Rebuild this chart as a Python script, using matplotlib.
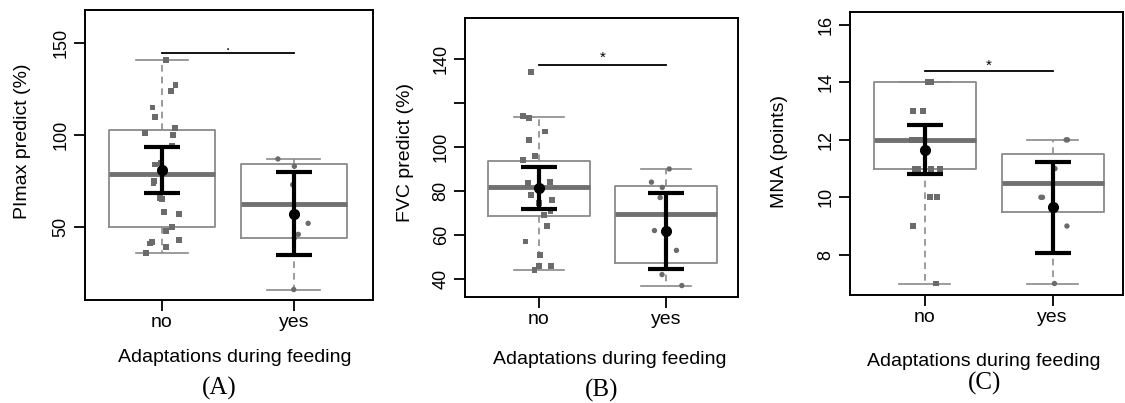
import numpy as np
import matplotlib
matplotlib.use("Agg")
import matplotlib.pyplot as plt

plt.rcParams["font.family"] = ["Liberation Sans", "DejaVu Sans"]

groups = ["no", "yes"]

# (A) PImax predict (%)
a_no_pts = [141, 127, 124, 115, 110, 104, 101, 100, 94, 85, 84, 75, 74, 66,
            65, 58, 57, 50, 48, 43, 42, 41, 39, 36]
a_yes_pts = [87, 83, 73, 52, 46, 44, 16]
a_box = [(36, 50, 79, 103, 141), (16, 44, 62.5, 84, 87)]   # whislo, q1, med, q3, whishi
a_mean = [81, 57]
a_ci = [(68.5, 93.5), (34.8, 80)]

# (B) FVC predict (%)
b_no_pts = [134, 114, 113, 107, 103, 96, 94, 84, 83.5, 78, 76, 74.5, 71, 69,
            64, 57, 51, 46, 46, 44]
b_yes_pts = [90, 84, 81.6, 77, 62, 53, 42, 37]
b_box = [(44, 68.6, 82, 93.6, 113.8), (37, 47.4, 69.5, 82.3, 90)]
b_mean = [81.5, 62]
b_ci = [(71.8, 91), (44.5, 79.2)]

# (C) MNA (points)
c_no_pts = [14, 14, 14, 14, 13, 13, 12, 12, 12, 11, 11, 11, 11, 10, 10, 9, 7]
c_yes_pts = [12, 12, 11, 10, 10, 9, 7]
c_box = [(7, 11, 12, 14, 14), (7, 9.5, 10.5, 11.5, 12)]
c_mean = [11.65, 9.65]
c_ci = [(10.8, 12.5), (8.07, 11.23)]

rng = np.random.default_rng(7)


def draw_panel(ax, pts, box, mean, ci, ylim, xlim, yticks, yticklabels,
               sig_y, sig_txt, sig_txt_y):
    stats = []
    for b in box:
        stats.append({"whislo": b[0], "q1": b[1], "med": b[2], "q3": b[3],
                      "whishi": b[4], "fliers": []})
    ax.bxp(stats, positions=[1, 2], widths=0.8, capwidths=0.4,
           boxprops=dict(color="#8a8a8a", lw=1.3),
           medianprops=dict(color="#707070", lw=3.5),
           whiskerprops=dict(color="#8a8a8a", lw=1.2, ls=(0, (4, 3))),
           capprops=dict(color="#8a8a8a", lw=1.2),
           manage_ticks=False, zorder=1)

    # jittered raw points, squares for "no", circles for "yes"
    for i, (p, m) in enumerate(zip(pts, ["s", "o"])):
        x = i + 1 + rng.uniform(-0.13, 0.13, len(p))
        ax.scatter(x, p, marker=m, s=18 if m == "s" else 15, color="#6b6b6b",
                   edgecolors="none", zorder=2)

    lo = [m - c[0] for m, c in zip(mean, ci)]
    hi = [c[1] - m for m, c in zip(mean, ci)]
    ax.errorbar([1, 2], mean, yerr=[lo, hi], fmt="o", color="black",
                ms=7, lw=3, capsize=13, capthick=3, zorder=3)

    ax.plot([1, 2], [sig_y, sig_y], color="black", lw=1.3)
    ax.text(1.5, sig_txt_y, sig_txt, ha="center", va="baseline", fontsize=11)

    ax.set_xlim(xlim)
    ax.set_ylim(ylim)
    ax.set_xticks([1, 2])
    ax.set_xticklabels(groups, fontsize=14)
    ax.set_yticks(yticks)
    ax.set_yticklabels(yticklabels, fontsize=13, rotation=90, va="center")
    ax.tick_params(axis="both", length=8, width=1.3, color="black")
    ax.tick_params(axis="x", pad=2)
    ax.tick_params(axis="y", pad=3)
    for s in ax.spines.values():
        s.set_linewidth(1.4)


fig = plt.figure(figsize=(11.25, 4.03), dpi=100)
W, H = 1125, 403


def axes_px(x0, x1, y0, y1):
    return fig.add_axes([x0 / W, (H - y1) / H, (x1 - x0) / W, (y1 - y0) / H])


ax_a = axes_px(85, 373, 10, 300)
ax_b = axes_px(465, 738, 18, 297)
ax_c = axes_px(850, 1123, 12, 295)

draw_panel(ax_a, [a_no_pts, a_yes_pts], a_box, a_mean, a_ci,
           (10.3, 168), (0.417, 2.6), [50, 100, 150], ["50", "100", "150"],
           144.6, ".", 146.5)
draw_panel(ax_b, [b_no_pts, b_yes_pts], b_box, b_mean, b_ci,
           (31.8, 158.6), (0.417, 2.567), [40, 60, 80, 100, 120, 140],
           ["40", "60", "80", "100", "", "140"],
           137.3, "*", 138.5)
draw_panel(ax_c, [c_no_pts, c_yes_pts], c_box, c_mean, c_ci,
           (6.6, 16.45), (0.414, 2.55), [8, 10, 12, 14, 16],
           ["8", "10", "12", "14", "16"],
           14.38, "*", 14.45)

# axis titles and panel letters placed in figure pixels
ylabels = [("PImax predict (%)", 23, 141), ("FVC predict (%)", 405, 152),
           ("MNA (points)", 780, 152)]
for txt, x, y in ylabels:
    fig.text(x / W, 1 - y / H, txt, rotation=90, ha="center", va="center",
             fontsize=14)

xlabels = [(235, 357), (610, 360), (984, 362)]
for x, y in xlabels:
    fig.text(x / W, 1 - y / H, "Adaptations during feeding", ha="center",
             va="center", fontsize=14)

letters = [("(A)", 219, 388), ("(B)", 602, 390), ("(C)", 985, 383)]
for txt, x, y in letters:
    fig.text(x / W, 1 - y / H, txt, ha="center", va="center", fontsize=18,
             family=["Liberation Serif", "DejaVu Serif"])

fig.savefig("out.png", dpi=100)
